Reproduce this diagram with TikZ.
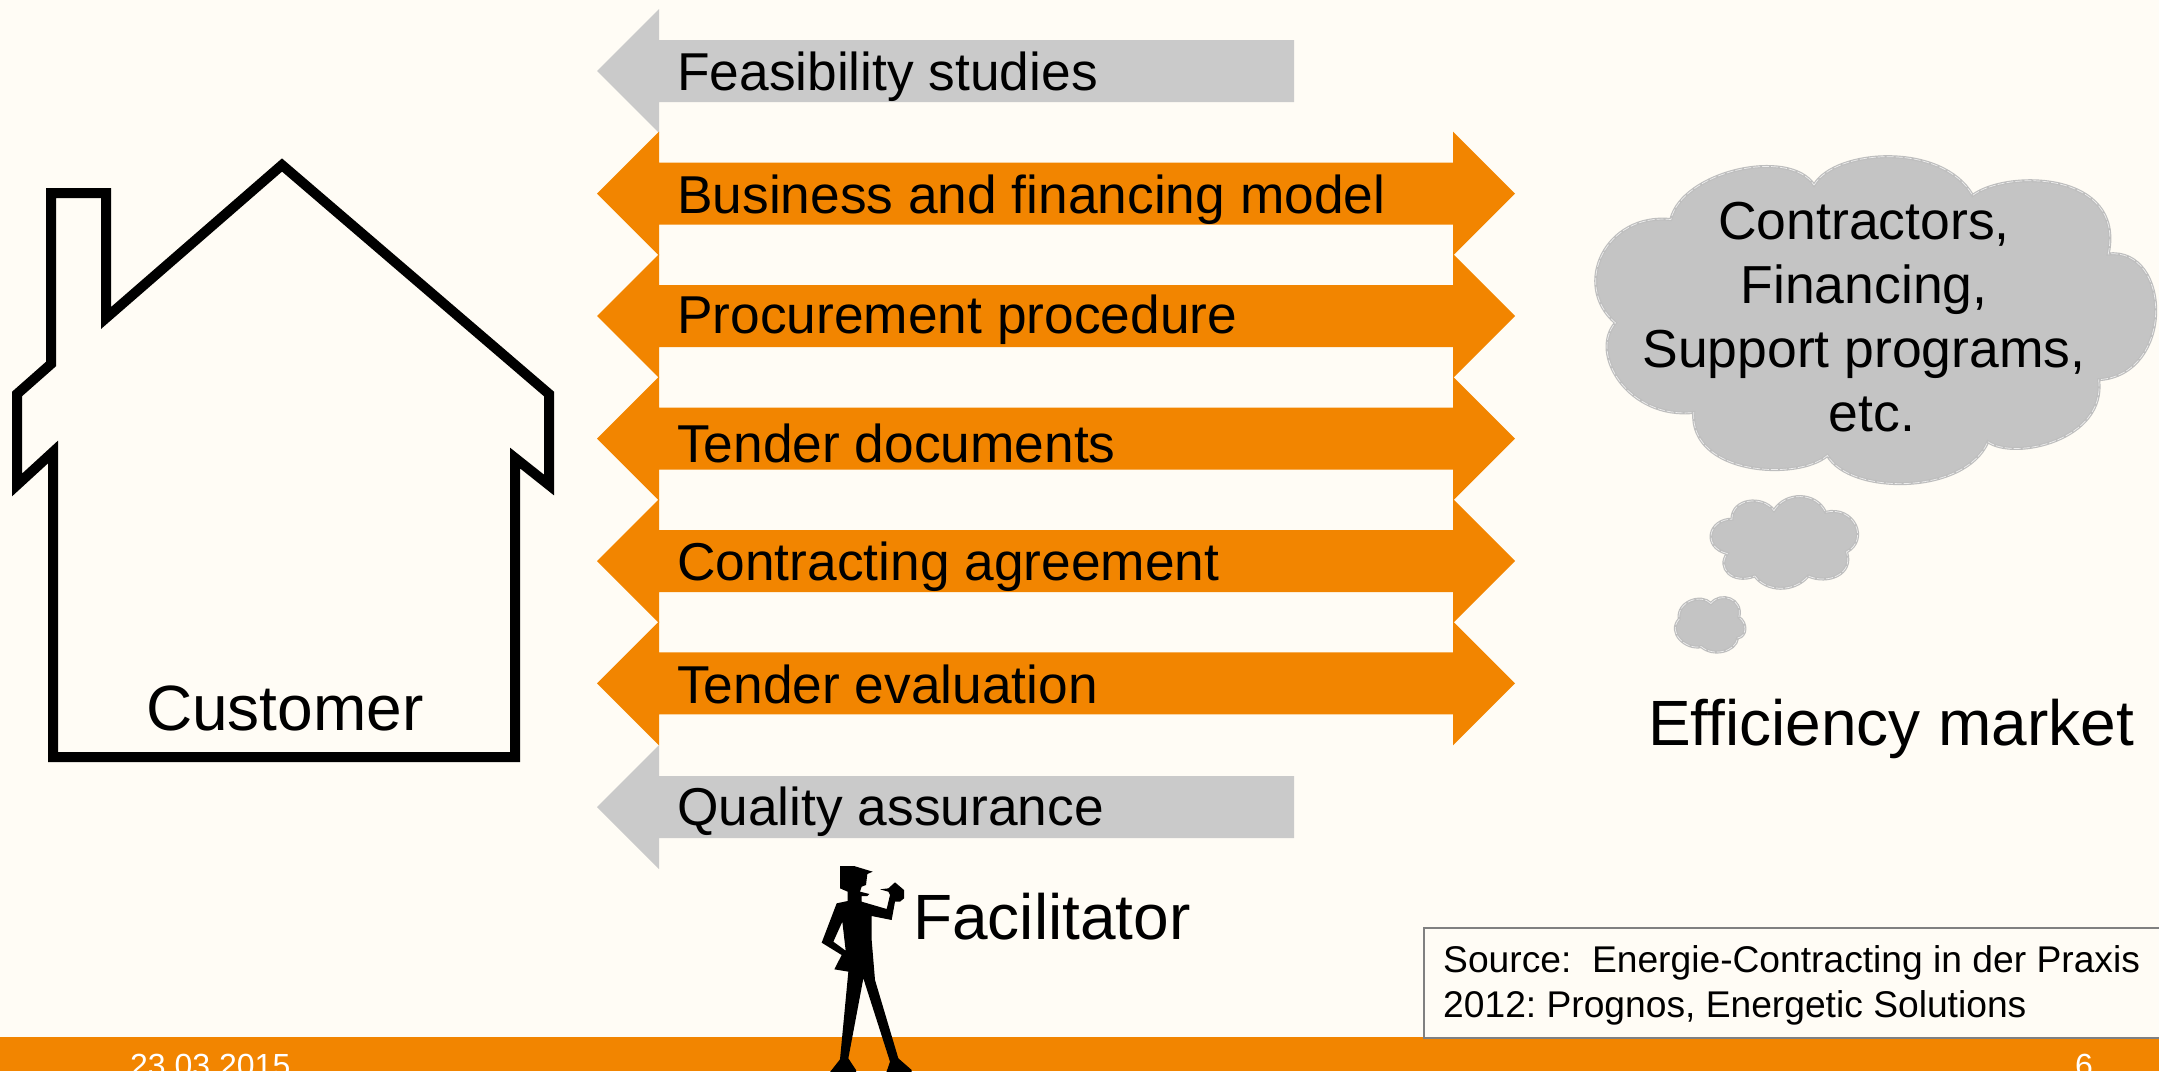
\documentclass[tikz,border=0pt]{standalone}
\usepackage{fontspec}
\setmainfont{Liberation Sans}
\definecolor{pagebg}{HTML}{FFFCF5}
\definecolor{orangebar}{HTML}{F28500}
\definecolor{grayarrow}{HTML}{CACACA}
\definecolor{cloudgray}{HTML}{C4C4C4}
\definecolor{cloudedge}{HTML}{BEBEBE}
\definecolor{boxedge}{HTML}{808080}
\newcommand{\sz}[1]{\fontsize{#1}{#1}\selectfont}
\newcommand{\leftarrowshape}[2]{\fill[#2] (597,#1) -- (659,#1-62) -- (659,#1-31) -- (1294,#1-31) -- (1294,#1+31) -- (659,#1+31) -- (659,#1+62) -- cycle;}
\newcommand{\bothshape}[2]{\fill[#2] (597,#1) -- (659,#1-62) -- (659,#1-31) -- (1453,#1-31) -- (1453,#1-62) -- (1515,#1) -- (1453,#1+62) -- (1453,#1+31) -- (659,#1+31) -- (659,#1+62) -- cycle;}
\tikzset{
  rowlabel/.style={inner sep=0pt,anchor=base west,text=black,font=\sz{53.3}},
  biglabel/.style={inner sep=0pt,anchor=base west,text=black,font=\sz{64}},
  footlabel/.style={inner sep=0pt,anchor=base west,text=white,font=\sz{32}},
  cloudbase/.style={fill=cloudgray,draw=cloudedge,line width=3pt},
  cloudstitch/.style={draw=white!70!cloudgray,line width=0.7pt,dash pattern=on 7pt off 2pt},
}
\frenchspacing
\begin{document}
\begin{tikzpicture}[x=1pt,y=-1pt]
\useasboundingbox (0,0) rectangle (2159,1071);
\clip (0,0) rectangle (2159,1071);
\fill[pagebg] (0,0) rectangle (2159,1071);
% arrows
\leftarrowshape{71}{grayarrow}
\bothshape{193.6}{orangebar}
\bothshape{316}{orangebar}
\bothshape{438.6}{orangebar}
\bothshape{561}{orangebar}
\bothshape{683.4}{orangebar}
\leftarrowshape{807}{grayarrow}
\node[rowlabel] (feas) at (677,90.5) {Feasibility studies};
\node[rowlabel] (bus) at (677,213.5) {Business and financing model};
\node[rowlabel] (proc) at (677,333.5) {Procurement procedure};
\node[rowlabel] (tdoc) at (677,462) {Tender documents};
\node[rowlabel] (contr) at (677,580) {Contracting agreement};
\node[rowlabel] (teval) at (677,703) {Tender evaluation};
\node[rowlabel] (qual) at (677,825) {Quality assurance};
% footer
\fill[orangebar] (0,1037) rectangle (2159,1071);
\node[footlabel] (date) at (130,1076) {23.03.2015};
\node[footlabel] (page) at (2075,1076) {6};
% house
\draw[line width=10pt,line join=miter,miter limit=3] (53,757) -- (53,452) -- (17,485) -- (17,394) -- (51,364) -- (51,193) -- (106,193) -- (106,318) -- (282,165) -- (549,394) -- (549,485) -- (515,458) -- (515,757) -- cycle;
\node[biglabel] (cust) at (146,730) {Customer};
% clouds
\begin{scope}[shift={(1560,130)},xscale=0.382,yscale=0.3444]
\def\cloudA{(665,160) .. controls (720,55) and (1000,35) .. (1080,190)
 .. controls (1170,115) and (1480,120) .. (1435,360)
 .. controls (1600,340) and (1610,710) .. (1410,725)
 .. controls (1430,900) and (1190,960) .. (1120,905)
 .. controls (1060,1060) and (760,1060) .. (700,945)
 .. controls (620,1020) and (340,1000) .. (350,820)
 .. controls (180,840) and (75,650) .. (145,560)
 .. controls (30,450) and (120,240) .. (290,260)
 .. controls (320,120) and (600,50) .. (665,160) -- cycle}
\def\cloudB{(560,1105) .. controls (590,1050) and (670,1050) .. (695,1110)
 .. controls (770,1090) and (810,1190) .. (750,1225)
 .. controls (770,1290) and (700,1320) .. (650,1295)
 .. controls (610,1345) and (540,1340) .. (510,1295)
 .. controls (450,1320) and (410,1270) .. (438,1230)
 .. controls (370,1210) and (390,1130) .. (450,1130)
 .. controls (450,1070) and (530,1060) .. (560,1105) -- cycle}
\def\cloudC{(395,1375) .. controls (420,1340) and (480,1360) .. (468,1415)
 .. controls (490,1430) and (490,1470) .. (465,1475)
 .. controls (460,1515) and (400,1530) .. (370,1500)
 .. controls (330,1510) and (280,1460) .. (312,1420)
 .. controls (305,1370) and (370,1345) .. (395,1375) -- cycle}
\path[cloudbase] \cloudA; \path[cloudstitch] \cloudA;
\path[cloudbase] \cloudB; \path[cloudstitch] \cloudB;
\path[cloudbase] \cloudC; \path[cloudstitch] \cloudC;
\end{scope}
\node[inner sep=0pt,align=center,font=\fontsize{53.5}{64}\selectfont] (mkt) at (1864,317) {Contractors,\\Financing,\\Support programs,\\\hspace*{16pt}etc.};
\node[biglabel] (eff) at (1648,745) {Efficiency market};
% facilitator
\begin{scope}[shift={(780,840)},scale=1/3]
\fill[black,even odd rule] (180,78) -- (222,78) -- (278,95) -- (262,102) -- (258,135) -- (245,140) -- (240,155) -- (268,162) -- (262,168) -- (245,168) -- (245,185) -- (320,207) -- (330,165) -- (325,155) -- (300,148) -- (325,145) -- (345,127) -- (372,150) -- (372,175) -- (360,185) -- (345,185) -- (335,240) -- (275,228) -- (275,300) -- (285,420) -- (355,655) -- (395,690) -- (395,700) -- (318,700) -- (330,665) -- (250,415) -- (205,655) -- (228,690) -- (228,700) -- (147,700) -- (180,658) -- (205,395) -- (163,388) -- (185,345) -- (125,308) -- (170,190) -- (203,183) -- (203,155) -- (180,145) -- cycle
 (187,245) -- (160,305) -- (197,332) -- cycle;
\end{scope}
\node[biglabel] (fac) at (913,939) {Facilitator};
% source box
\node[draw=boxedge,line width=1.5pt,fill=pagebg,inner sep=0pt,minimum width=760pt,minimum height=110pt,anchor=north west] (srcbox) at (1423,927) {};
\node[inner sep=0pt,anchor=base west,align=left,font=\fontsize{37.2}{45}\selectfont] (src) at (1443,1017) {Source:\ \ Energie-Contracting in der Praxis\\2012: Prognos, Energetic Solutions};
\end{tikzpicture}
\end{document}
